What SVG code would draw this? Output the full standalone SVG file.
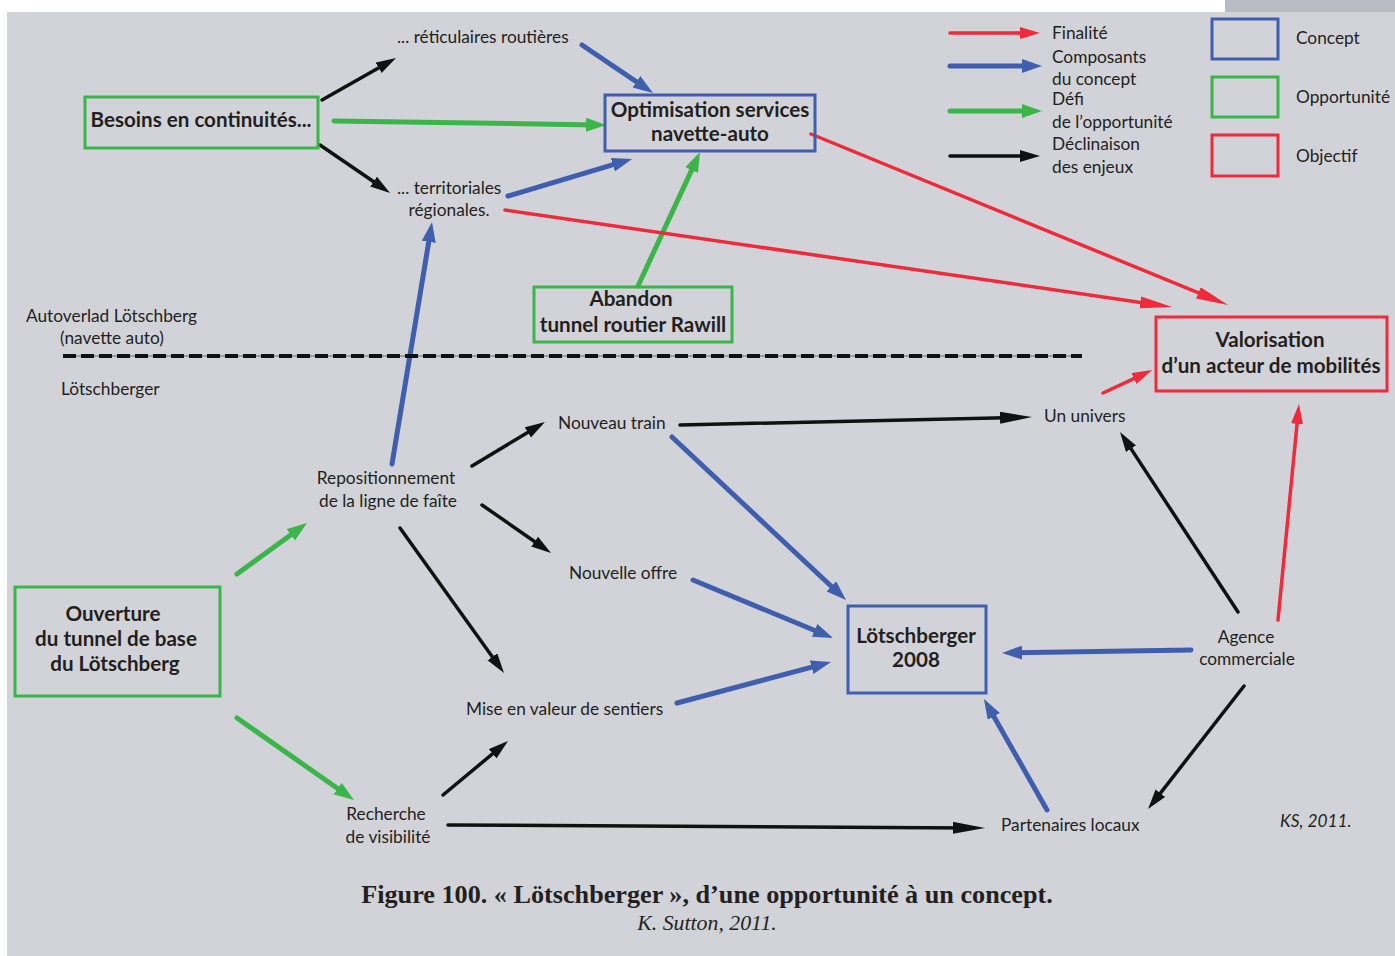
<svg xmlns="http://www.w3.org/2000/svg" width="1395" height="956" viewBox="0 0 1395 956">
<style>
.t{font-family:Lato,"Liberation Sans",sans-serif;font-size:17.3px;fill:#231f20}
.b{font-family:Lato,"Liberation Sans",sans-serif;font-size:20.6px;font-weight:bold;fill:#231f20}
.m{text-anchor:middle}
.cap{font-family:"Liberation Serif",serif;font-size:26.2px;font-weight:bold;fill:#231f20;text-anchor:middle}
.sub{font-family:"Liberation Serif",serif;font-size:21.8px;font-style:italic;fill:#231f20;text-anchor:middle}
.box{fill:none;stroke-width:3}
.gb{stroke:#3bb54a}.bb{stroke:#3f5fae}.rb{stroke:#ee2a3b}
.c{fill:none;stroke-linecap:round}
.k{stroke:#111;stroke-width:3.5}
.bl{stroke:#3f5fae;stroke-width:5}
.gr{stroke:#3bb54a;stroke-width:5}
.rd{stroke:#ee2a3b;stroke-width:3.5}
</style>
<defs>
<marker id="ak" markerUnits="userSpaceOnUse" markerWidth="22" markerHeight="14" refX="10" refY="6" orient="auto"><path d="M0,0 L20,6 L0,12 z" fill="#111"/></marker>
<marker id="akl" markerUnits="userSpaceOnUse" markerWidth="34" markerHeight="14" refX="16" refY="6" orient="auto"><path d="M0,0 L32,6 L0,12 z" fill="#111"/></marker>
<marker id="ab" markerUnits="userSpaceOnUse" markerWidth="22" markerHeight="16" refX="10" refY="7" orient="auto"><path d="M0,0 L20,7 L0,14 z" fill="#3f5fae"/></marker>
<marker id="ag" markerUnits="userSpaceOnUse" markerWidth="22" markerHeight="16" refX="10" refY="7" orient="auto"><path d="M0,0 L20,7 L0,14 z" fill="#3bb54a"/></marker>
<marker id="ar" markerUnits="userSpaceOnUse" markerWidth="22" markerHeight="14" refX="10" refY="6" orient="auto"><path d="M0,0 L20,6 L0,12 z" fill="#ee2a3b"/></marker>
<marker id="arl" markerUnits="userSpaceOnUse" markerWidth="34" markerHeight="14" refX="16" refY="6" orient="auto"><path d="M0,0 L32,6 L0,12 z" fill="#ee2a3b"/></marker>
</defs>
<rect x="0" y="0" width="1395" height="956" fill="#ffffff"/>
<rect x="1225" y="0" width="170" height="12" fill="#b9bcc5"/>
<rect x="7" y="12" width="1388" height="944" fill="#d2d3d8"/>

<g id="legend">
<line class="c rd" x1="950" y1="33" x2="1030" y2="33" marker-end="url(#ar)"/>
<line class="c bl" x1="950" y1="66" x2="1032" y2="66" marker-end="url(#ab)"/>
<line class="c gr" x1="950" y1="111" x2="1032" y2="111" marker-end="url(#ag)"/>
<line class="c k" x1="950" y1="156" x2="1030" y2="156" marker-end="url(#ak)"/>
<text class="t" x="1052" y="39">Finalité</text>
<text class="t" x="1052" y="63">Composants</text>
<text class="t" x="1052" y="85">du concept</text>
<text class="t" x="1052" y="105">Défi</text>
<text class="t" x="1052" y="128">de l’opportunité</text>
<text class="t" x="1052" y="150">Déclinaison</text>
<text class="t" x="1052" y="173">des enjeux</text>
<rect class="box bb" x="1212" y="19" width="66" height="40"/>
<rect class="box gb" x="1212" y="77" width="66" height="40"/>
<rect class="box rb" x="1212" y="135" width="66" height="41"/>
<text class="t" x="1296" y="44">Concept</text>
<text class="t" x="1296" y="103">Opportunité</text>
<text class="t" x="1296" y="162">Objectif</text>
</g>

<g id="connectors">
<line class="c k" x1="322" y1="100" x2="387.3" y2="62.9" marker-end="url(#ak)"/>
<line class="c k" x1="320" y1="145" x2="381.8" y2="187.3" marker-end="url(#ak)"/>
<line class="c k" x1="472" y1="466" x2="536.4" y2="427.2" marker-end="url(#ak)"/>
<line class="c k" x1="482" y1="505" x2="542.8" y2="547.3" marker-end="url(#ak)"/>
<line class="c k" x1="400" y1="528" x2="498.2" y2="664.9" marker-end="url(#ak)"/>
<line class="c k" x1="443" y1="795" x2="500.3" y2="747.4" marker-end="url(#ak)"/>
<line class="c k" x1="680" y1="425" x2="1016" y2="417.4" marker-end="url(#akl)"/>
<line class="c k" x1="448" y1="825" x2="969" y2="827.9" marker-end="url(#akl)"/>
<line class="c k" x1="1238" y1="612" x2="1125.5" y2="440.4" marker-end="url(#ak)"/>
<line class="c k" x1="1244" y1="686" x2="1154.2" y2="801.1" marker-end="url(#ak)"/>

<line class="c bl" x1="582" y1="45" x2="644.7" y2="87.4" marker-end="url(#ab)"/>
<line class="c bl" x1="508" y1="196" x2="622.4" y2="161.9" marker-end="url(#ab)"/>
<line class="c bl" x1="392" y1="464" x2="430.4" y2="231.9" marker-end="url(#ab)"/>
<line class="c bl" x1="672" y1="437" x2="838.7" y2="593.2" marker-end="url(#ab)"/>
<line class="c bl" x1="693" y1="580" x2="823.8" y2="634.2" marker-end="url(#ab)"/>
<line class="c bl" x1="677" y1="703" x2="821.3" y2="664.6" marker-end="url(#ab)"/>
<line class="c bl" x1="1191" y1="650" x2="1012" y2="652.8" marker-end="url(#ab)"/>
<line class="c bl" x1="1047" y1="810" x2="988.9" y2="707.7" marker-end="url(#ab)"/>

<line class="c gr" x1="334" y1="121" x2="596" y2="124.9" marker-end="url(#ag)"/>
<line class="c gr" x1="638" y1="286" x2="695.8" y2="161.1" marker-end="url(#ag)"/>
<line class="c gr" x1="237" y1="574" x2="298.9" y2="528.9" marker-end="url(#ag)"/>
<line class="c gr" x1="237" y1="718" x2="345.8" y2="794.3" marker-end="url(#ag)"/>

<line class="c rd" x1="811" y1="134" x2="1213.2" y2="298.9" marker-end="url(#arl)"/>
<line class="c rd" x1="505" y1="210" x2="1156.2" y2="304.7" marker-end="url(#arl)"/>
<line class="c rd" x1="1103" y1="393" x2="1143" y2="374.3" marker-end="url(#ar)"/>
<line class="c rd" x1="1278" y1="620" x2="1298" y2="414" marker-end="url(#ar)"/>
</g>

<g id="separator">
<line x1="63" y1="356" x2="1082" y2="356" stroke="#666" stroke-width="1"/>
<line x1="63" y1="356" x2="1082" y2="356" stroke="#111" stroke-width="4" stroke-dasharray="13,5"/>
<text class="t" x="26" y="322">Autoverlad Lötschberg</text>
<text class="t" x="60" y="344">(navette auto)</text>
<text class="t" x="61" y="395">Lötschberger</text>
</g>

<g id="besoins">
<rect class="box gb" x="85" y="97" width="233" height="51"/>
<text class="b m" x="201" y="127">Besoins en continuités...</text>
</g>
<g id="reticulaires"><text class="t" x="397" y="43">... réticulaires routières</text></g>
<g id="territoriales">
<text class="t" x="397" y="194">... territoriales</text>
<text class="t m" x="449" y="216">régionales.</text>
</g>
<g id="optimisation">
<rect class="box bb" x="605" y="95" width="210" height="56"/>
<text class="b m" x="710" y="117">Optimisation services</text>
<text class="b m" x="710" y="141">navette-auto</text>
</g>
<g id="abandon">
<rect class="box gb" x="534" y="287" width="198" height="55"/>
<text class="b m" x="631" y="306">Abandon</text>
<text class="b m" x="633" y="332">tunnel routier Rawill</text>
</g>
<g id="valorisation">
<rect class="box rb" x="1156" y="317" width="231" height="74"/>
<text class="b m" x="1270" y="347">Valorisation</text>
<text class="b m" x="1271" y="373">d’un acteur de mobilités</text>
</g>
<g id="univers"><text class="t" x="1044" y="422">Un univers</text></g>
<g id="nouveau-train"><text class="t" x="558" y="429">Nouveau train</text></g>
<g id="repositionnement">
<text class="t m" x="386" y="484">Repositionnement</text>
<text class="t m" x="388" y="507">de la ligne de faîte</text>
</g>
<g id="nouvelle-offre"><text class="t" x="569" y="579">Nouvelle offre</text></g>
<g id="lotschberger2008">
<rect class="box bb" x="848" y="606" width="138" height="87"/>
<text class="b m" x="916" y="643">Lötschberger</text>
<text class="b m" x="916" y="667">2008</text>
</g>
<g id="agence">
<text class="t m" x="1246" y="643">Agence</text>
<text class="t m" x="1247" y="665">commerciale</text>
</g>
<g id="ouverture">
<rect class="box gb" x="15" y="587" width="205" height="109"/>
<text class="b m" x="113" y="621">Ouverture</text>
<text class="b m" x="116" y="646">du tunnel de base</text>
<text class="b m" x="115" y="671">du Lötschberg</text>
</g>
<g id="sentiers"><text class="t" x="466" y="715">Mise en valeur de sentiers</text></g>
<g id="recherche">
<text class="t m" x="386" y="820">Recherche</text>
<text class="t m" x="388" y="843">de visibilité</text>
</g>
<g id="partenaires"><text class="t" x="1001" y="831">Partenaires locaux</text></g>
<text class="t" x="1280" y="827" font-style="italic">KS, 2011.</text>
<text class="cap" x="707" y="903">Figure 100. « Lötschberger », d’une opportunité à un concept.</text>
<text class="sub" x="707" y="930">K. Sutton, 2011.</text>
</svg>
